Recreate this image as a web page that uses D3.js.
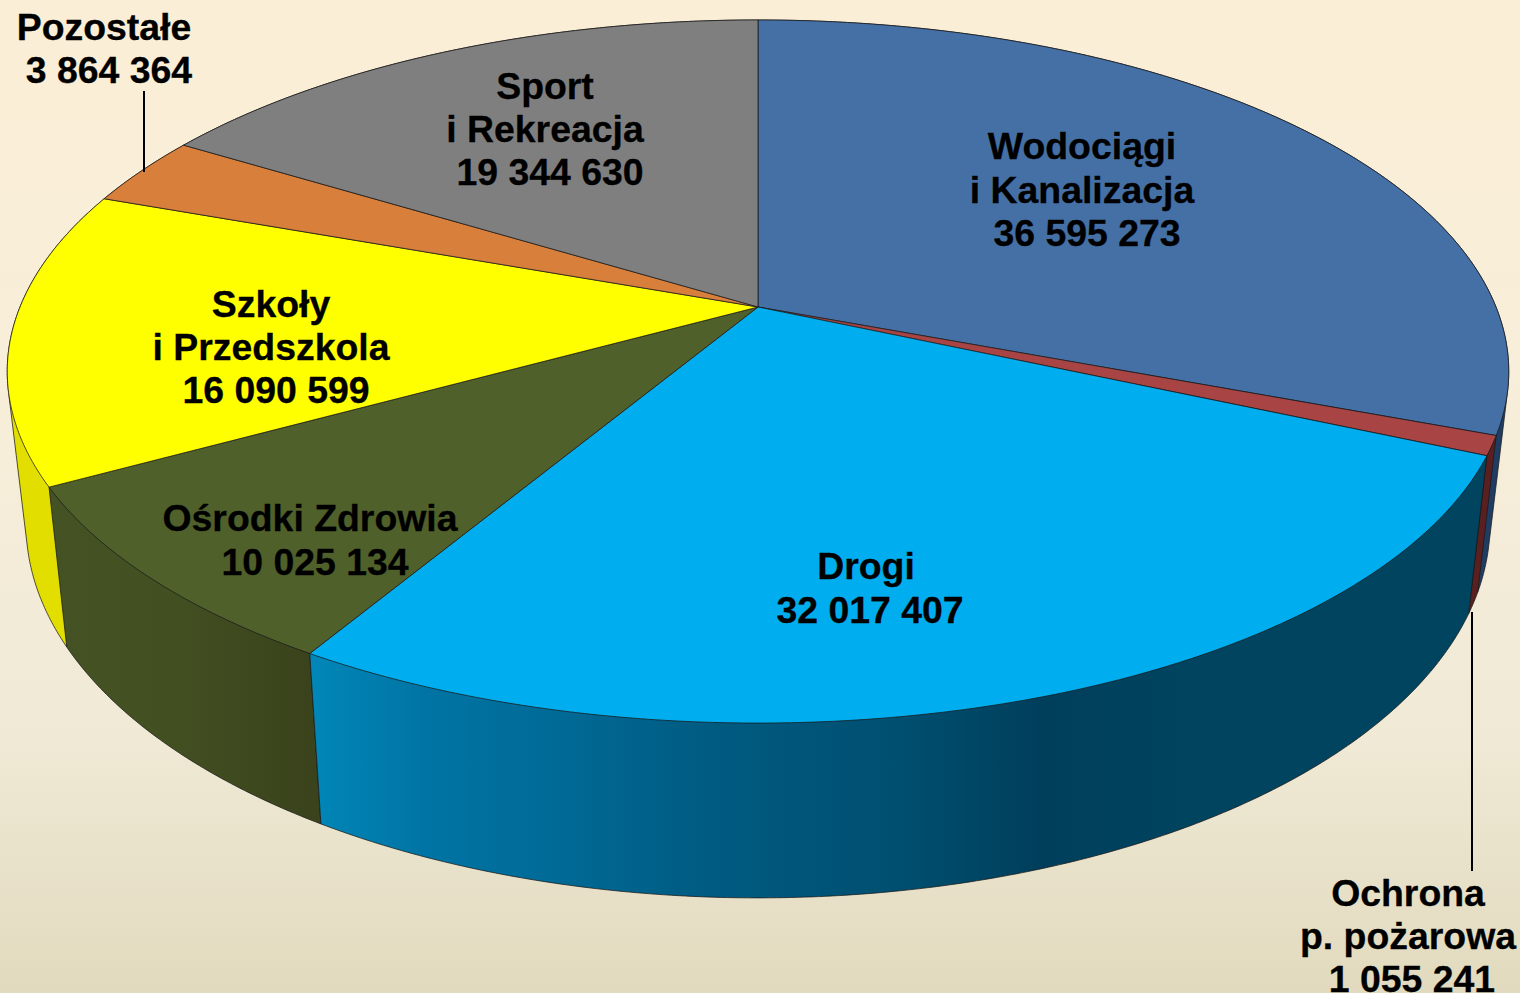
<!DOCTYPE html>
<html>
<head>
<meta charset="utf-8">
<script src="https://cdnjs.cloudflare.com/ajax/libs/d3/7.8.5/d3.min.js"></script>
<style>
    html, body { margin: 0; padding: 0; overflow: hidden; }
    text { font-family: "Liberation Sans", Arial, sans-serif; font-weight: bold; font-size: 37.4px; fill: #000; stroke: #000; stroke-width: 0.3px; text-anchor: middle; }
</style>
</head>
<body>
<div id="chart"></div>
<script>
// Slices, clockwise from the top of the disc
var categories = ["Wodociągi i Kanalizacja", "Ochrona p. pożarowa", "Drogi", "Ośrodki Zdrowia",
                  "Szkoły i Przedszkola", "Pozostałe", "Sport i Rekreacja"];
var values = [36595273, 1055241, 32017407, 10025134, 16090599, 3864364, 19344630];
var valueLabels = ["36 595 273", "1 055 241", "32 017 407", "10 025 134", "16 090 599", "3 864 364", "19 344 630"];
var nameLines = [["Wodociągi", "i Kanalizacja"], ["Ochrona", "p. pożarowa"], ["Drogi"], ["Ośrodki Zdrowia"],
                 ["Szkoły", "i Przedszkola"], ["Pozostałe"], ["Sport", "i Rekreacja"]];

var topColors = ["#4570A5", "#A84444", "#00AEEF", "#50602A", "#FFFF00", "#D97F3C", "#7F7F7F"];
var wallStops = [["#1F3D63", "#1F3D63"], ["#5A2020", "#5A2020"],
                 ["#0087B8", "#0074A4", "#006A96", "#005C83", "#004F70", "#003F5C", "#00445F", "#00445F"],
                 ["#445224", "#424F21", "#3A431C"],
                 ["#E2DE00", "#E2DE00"], ["#B06A30", "#B06A30"], ["#666666", "#666666"]];
var drogiOffsets = [0, 0.1, 0.21, 0.33, 0.5, 0.62, 0.75, 1];

var width = 1520, height = 993;

// perspective of the disc: k is the foreshortening along the depth axis
var cx = 758, cy = 307, a = 738, b = 339.7, k = 0.1835;

function project(t) {
    var X = Math.sin(t), Y = Math.cos(t), w = 1 + k * Y;
    return [cx + a * X / w, cy - b * Y / w];
}

// the underside of the disc, found by measuring the vertical edges
function under(p) {
    return [cx + 0.975 * (p[0] - cx), 1.0634 * p[1] + 129];
}

function arcPoints(t0, t1) {
    var n = Math.max(2, Math.ceil((t1 - t0) / 0.008));
    return d3.range(n + 1).map(function(i) { return project(t0 + (t1 - t0) * i / n); });
}

var svg = d3.select("#chart").append("svg")
    .attr("width", width)
    .attr("height", height)
    .style("display", "block");

var defs = svg.append("defs");

var bg = defs.append("linearGradient")
    .attr("id", "bg").attr("x1", 0).attr("y1", 0).attr("x2", 0).attr("y2", 1);
bg.append("stop").attr("offset", "0%").attr("stop-color", "#FBEED6");
bg.append("stop").attr("offset", "45%").attr("stop-color", "#F7EEDA");
bg.append("stop").attr("offset", "75%").attr("stop-color", "#EFE9D5");
bg.append("stop").attr("offset", "100%").attr("stop-color", "#E2DABE");

svg.append("rect").attr("width", width).attr("height", height).attr("fill", "url(#bg)");

var pie = d3.pie().sort(null).value(function(d) { return d; });
var arcs = pie(values);
var line = d3.line();

arcs.forEach(function(d, i) {
    d.index = i;
    d.rim = arcPoints(d.startAngle, d.endAngle);
    d.depth = Math.cos((d.startAngle + d.endAngle) / 2);
});

// Side wall colours run left to right across each slice
arcs.forEach(function(d, i) {
    var xs = d.rim.map(function(p) { return p[0]; });
    var g = defs.append("linearGradient")
        .attr("id", "wall" + i)
        .attr("gradientUnits", "userSpaceOnUse")
        .attr("x1", d3.min(xs)).attr("x2", d3.max(xs))
        .attr("y1", 0).attr("y2", 0);
    wallStops[i].forEach(function(c, j) {
        var off = i === 2 ? drogiOffsets[j] : j / (wallStops[i].length - 1);
        g.append("stop").attr("offset", off).attr("stop-color", c);
    });
});

// Side walls, far ones first. The hull closes the outline between top and underside at the silhouette.
svg.append("g").selectAll("path")
    .data(arcs.slice().sort(function(p, q) { return d3.descending(p.depth, q.depth); }))
    .join("path")
    .attr("d", function(d) {
        return line(d3.polygonHull(d.rim.concat(d.rim.map(under)))) + "Z";
    })
    .attr("fill", function(d) { return "url(#wall" + d.index + ")"; })
    .attr("stroke", "#1a1a1a")
    .attr("stroke-opacity", 0.75)
    .attr("stroke-width", 1);

// Top faces
svg.append("g").selectAll("path")
    .data(arcs)
    .join("path")
    .attr("d", function(d) { return line([[cx, cy]].concat(d.rim)) + "Z"; })
    .attr("fill", function(d, i) { return topColors[i]; })
    .attr("stroke", "#1a1a1a")
    .attr("stroke-opacity", 0.75)
    .attr("stroke-width", 1);

// Leader lines for the two small slices
var leaders = [[[144, 91], [144, 172]], [[1472, 612], [1472, 871]]];
svg.append("g").selectAll("path")
    .data(leaders)
    .join("path")
    .attr("d", line)
    .attr("fill", "none")
    .attr("stroke", "#000")
    .attr("stroke-width", 2);

// Labels: x of the name block, x of the value, baseline of the first line, line step
var labelLayout = [
    { x: 1082, vx: 1087, y: 159, dy: 43.5 },
    { x: 1408, vx: 1412, y: 906, dy: 43 },
    { x: 866, vx: 870, y: 579, dy: 44 },
    { x: 310, vx: 315, y: 531, dy: 44 },
    { x: 271, vx: 276, y: 317, dy: 43 },
    { x: 104, vx: 109, y: 40, dy: 43 },
    { x: 545, vx: 550, y: 99, dy: 43 }
];

var labels = svg.append("g").selectAll("text")
    .data(categories)
    .join("text")
    .attr("aria-label", function(d) { return d; });

labels.each(function(d, i) {
    var pos = labelLayout[i];
    var node = d3.select(this);
    nameLines[i].forEach(function(s, j) {
        node.append("tspan")
            .attr("x", pos.x)
            .attr("y", pos.y + j * pos.dy)
            .text(s);
    });
    node.append("tspan")
        .attr("x", pos.vx)
        .attr("y", pos.y + nameLines[i].length * pos.dy)
        .text(valueLabels[i]);
});
</script>
</body>
</html>
